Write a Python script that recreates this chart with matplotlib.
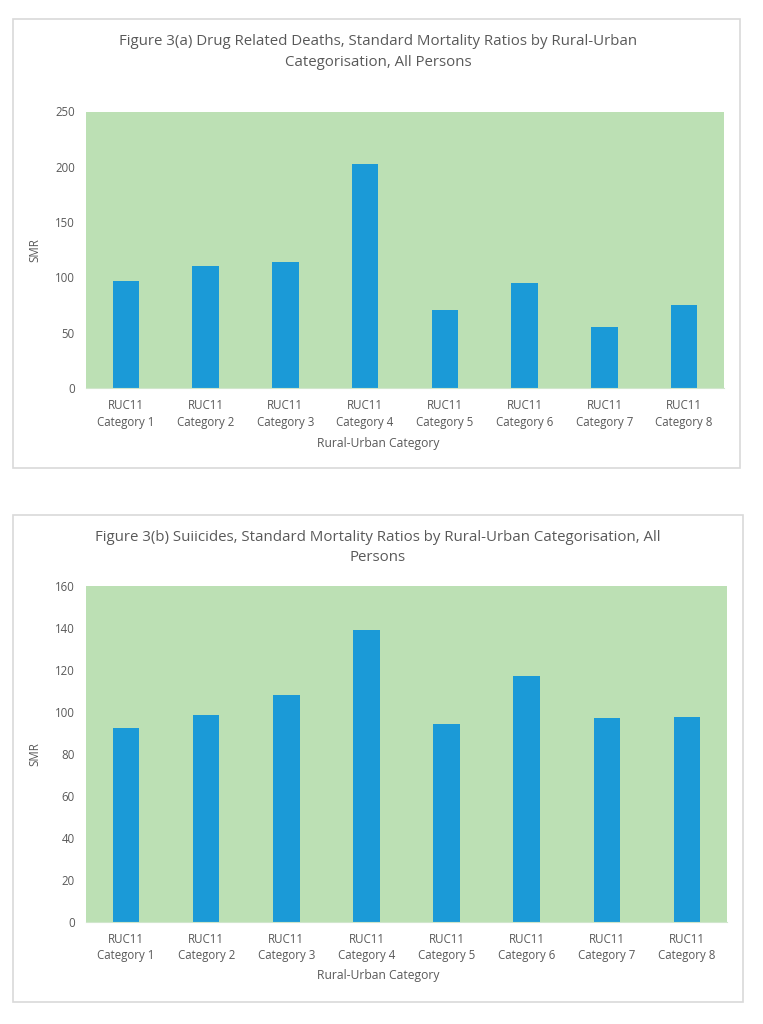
import matplotlib.pyplot as plt
from matplotlib.patches import Rectangle

plt.rcParams['font.family'] = ['Open Sans', 'DejaVu Sans']

categories = ["RUC11\nCategory %d" % i for i in range(1, 9)]
drug_smr = [96.6, 110.4, 113.7, 202.5, 70.1, 94.5, 54.8, 74.9]
suicide_smr = [92.5, 98.7, 107.9, 138.9, 94.1, 117.3, 96.9, 97.6]

title_a = "Figure 3(a) Drug Related Deaths, Standard Mortality Ratios by Rural-Urban\nCategorisation, All Persons"
title_b = "Figure 3(b) Suiicides, Standard Mortality Ratios by Rural-Urban Categorisation, All\nPersons"

W, H = 763, 1024
grey = "#595959"
green = "#bce0b4"
blue = "#1b9ad7"

fig = plt.figure(figsize=(W / 100, H / 100), dpi=100)


def px_axes(left, top, right, bottom):
    return fig.add_axes([left / W, 1 - bottom / H, (right - left) / W, (bottom - top) / H])


def frame(left, top, right, bottom):
    fig.patches.append(Rectangle((left / W, 1 - bottom / H), (right - left) / W, (bottom - top) / H,
                                 transform=fig.transFigure, fill=False, ec="#d9d9d9", lw=1.2))


def draw(ax, vals, ymax, step, title, title_y, xlabel_y):
    x = range(len(vals))
    ax.bar(x, vals, width=0.33, color=blue, zorder=2)
    ax.set_facecolor(green)
    ax.set_xlim(-0.5, len(vals) - 0.5)
    ax.set_ylim(0, ymax)
    ax.set_yticks(range(0, ymax + 1, step))
    ax.set_xticks(list(x))
    ax.set_xticklabels(categories, linespacing=1.35)
    ax.tick_params(length=0, labelsize=8.3, colors=grey, pad=8)
    for s in ["top", "right", "left"]:
        ax.spines[s].set_visible(False)
    ax.spines["bottom"].set_color("#d0e6cc")
    ax.set_ylabel("SMR", fontsize=8.3, color=grey, labelpad=10)
    # axis title placed in figure pixels
    fig.text(378 / W, 1 - xlabel_y / H, "Rural-Urban Category", ha="center", va="center",
             fontsize=8.7, color=grey)
    fig.text(378 / W, 1 - title_y / H, title, ha="center", va="center",
             fontsize=10.8, color=grey, linespacing=1.5)


frame(13, 19, 740, 468)
frame(13, 515, 743, 1002)

ax1 = px_axes(86, 111.5, 724, 388)
draw(ax1, drug_smr, 250, 50, title_a, 52, 443)

ax2 = px_axes(86, 586, 727, 921.7)
draw(ax2, suicide_smr, 160, 20, title_b, 547.5, 976)

fig.savefig("out.png", dpi=100)
